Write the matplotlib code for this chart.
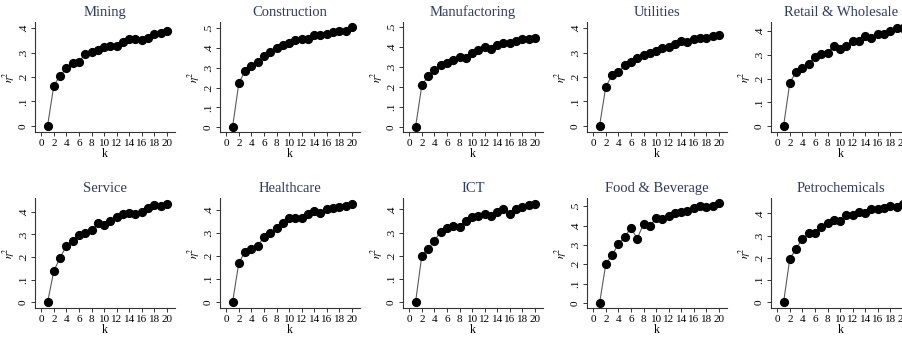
import matplotlib
matplotlib.use("Agg")
import matplotlib.pyplot as plt
import numpy as np

k = list(range(1, 21))

titles = ["Mining", "Construction", "Manufactoring", "Utilities", "Retail & Wholesale",
          "Service", "Healthcare", "ICT", "Food & Beverage", "Petrochemicals"]

mining = [0, 0.165, 0.205, 0.236, 0.256, 0.263, 0.293, 0.303, 0.310, 0.323,
          0.328, 0.326, 0.344, 0.354, 0.354, 0.353, 0.361, 0.377, 0.381, 0.387]
construction = [0, 0.222, 0.285, 0.307, 0.327, 0.361, 0.380, 0.400, 0.415, 0.424,
                0.439, 0.446, 0.446, 0.468, 0.468, 0.473, 0.480, 0.486, 0.485, 0.507]
manufacturing = [0, 0.208, 0.254, 0.287, 0.309, 0.322, 0.334, 0.350, 0.347, 0.372,
                 0.384, 0.400, 0.392, 0.409, 0.420, 0.419, 0.430, 0.439, 0.439, 0.444]
utilities = [0, 0.161, 0.207, 0.219, 0.250, 0.263, 0.276, 0.291, 0.298, 0.307,
             0.318, 0.323, 0.334, 0.347, 0.343, 0.357, 0.360, 0.360, 0.368, 0.371]
retail = [0, 0.183, 0.228, 0.245, 0.263, 0.293, 0.303, 0.310, 0.338, 0.325,
          0.339, 0.360, 0.360, 0.379, 0.370, 0.389, 0.390, 0.400, 0.414, 0.414]
service = [0, 0.139, 0.197, 0.250, 0.273, 0.298, 0.305, 0.320, 0.350, 0.343,
           0.361, 0.378, 0.390, 0.393, 0.390, 0.401, 0.419, 0.431, 0.426, 0.436]
healthcare = [0, 0.171, 0.220, 0.231, 0.246, 0.281, 0.299, 0.324, 0.343, 0.367,
              0.367, 0.367, 0.381, 0.396, 0.389, 0.403, 0.407, 0.413, 0.417, 0.427]
ict = [0, 0.201, 0.230, 0.265, 0.304, 0.318, 0.329, 0.326, 0.350, 0.369,
       0.372, 0.379, 0.372, 0.389, 0.400, 0.379, 0.403, 0.411, 0.417, 0.424]
food = [0, 0.203, 0.248, 0.304, 0.342, 0.387, 0.333, 0.408, 0.396, 0.438,
        0.434, 0.451, 0.464, 0.472, 0.477, 0.490, 0.503, 0.498, 0.503, 0.517]
petro = [0, 0.197, 0.240, 0.287, 0.311, 0.314, 0.341, 0.356, 0.370, 0.366,
         0.391, 0.391, 0.404, 0.403, 0.419, 0.419, 0.422, 0.434, 0.427, 0.444]

series = [mining, construction, manufacturing, utilities, retail,
          service, healthcare, ict, food, petro]
ytick_max = [0.4, 0.5, 0.5, 0.4, 0.4, 0.4, 0.4, 0.4, 0.5, 0.4]
xticks = list(range(0, 21, 2))

plt.rcParams['font.family'] = ['Liberation Serif', 'DejaVu Serif']
plt.rcParams['mathtext.fontset'] = 'stix'

W, H = 902, 341
fig = plt.figure(figsize=(W / 100, H / 100), dpi=100)
fig.patch.set_facecolor('white')

col_left = [35, 220, 403, 587, 771]
row_bottom_px = [132, 308]   # from top
ax_w, ax_h = 140, 110
title_color = '#2c3a72'

for i, (title, y, tmax) in enumerate(zip(titles, series, ytick_max)):
    r, c = divmod(i, 5)
    left = col_left[c] / W
    bottom = (H - row_bottom_px[r]) / H
    ax = fig.add_axes([left, bottom, ax_w / W, ax_h / H])
    ax.plot(k, y, color='#5a5a5a', lw=0.8, marker='o', ms=5.6,
            mfc='black', mec='black', zorder=3, clip_on=False)
    top = max(tmax, max(y)) + 0.025
    ax.set_ylim(-0.025, top)
    ax.set_xlim(-1.0, 21.3)
    yt = np.round(np.arange(0, tmax + 0.001, 0.1), 1)
    ax.set_yticks(yt)
    ax.set_yticklabels(['0' if v == 0 else ('%.1f' % v)[1:] for v in yt],
                       rotation=90, va='center', fontsize=8)
    ax.set_xticks(xticks)
    ax.set_xticklabels([str(v) for v in xticks], fontsize=8)
    ax.tick_params(axis='both', length=3, width=0.7, pad=2, color='#333333')
    for s in ['top', 'right']:
        ax.spines[s].set_visible(False)
    for s in ['left', 'bottom']:
        ax.spines[s].set_color('#333333')
        ax.spines[s].set_linewidth(0.8)
    ax.set_xlabel('k', fontsize=8.5, labelpad=0)
    ax.set_ylabel(r'$\eta^2$', fontsize=8, labelpad=1)
    ax.set_title(title, fontsize=10.5, color=title_color, pad=4)

fig.savefig('out.png', dpi=100)
